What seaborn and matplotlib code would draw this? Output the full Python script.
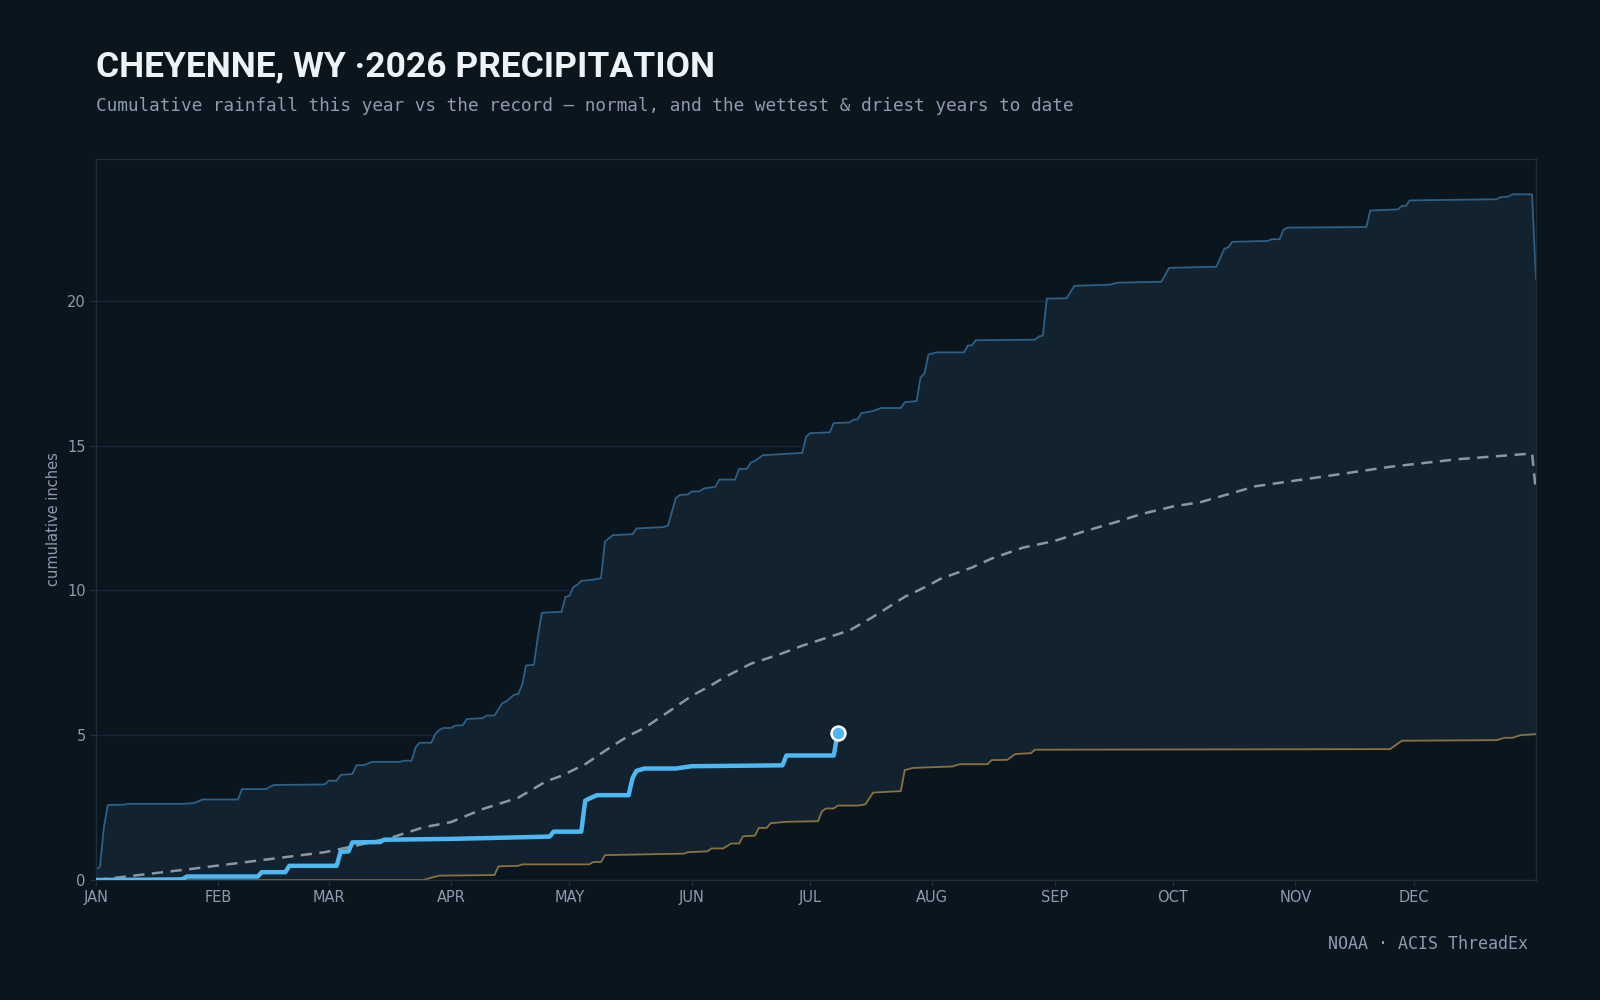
import numpy as np
import pandas as pd
import matplotlib
matplotlib.use("Agg")
import matplotlib.pyplot as plt
import seaborn as sns

# 데이터 (day of year -> cumulative inches, breakpoints)
wet_day = [0, 1, 2, 3, 7, 8, 22, 25, 27, 36, 37, 43, 45, 58, 59, 61, 62, 65, 66, 68, 70, 77, 78, 80,
           81, 82, 85, 86, 87, 88, 90, 91, 93, 94, 98, 99, 101, 103, 104, 106, 107, 108, 109, 111,
           112, 113, 118, 119, 120, 121, 122, 123, 126, 128, 129, 131, 136, 137, 144, 145, 147, 148,
           150, 151, 153, 154, 157, 158, 162, 163, 165, 166, 167, 169, 175, 179, 180, 181, 186, 187,
           191, 192, 193, 194, 197, 199, 204, 205, 208, 209, 210, 211, 213, 220, 221, 222, 223, 238,
           239, 240, 241, 246, 248, 257, 259, 270, 272, 284, 286, 287, 288, 297, 298, 300, 301, 302,
           322, 323, 330, 331, 332, 333, 355, 356, 358, 359, 364, 365]
wet_in = [0.35, 0.46, 1.82, 2.59, 2.6, 2.63, 2.63, 2.66, 2.78, 2.78, 3.14, 3.14, 3.28, 3.3, 3.43, 3.43,
          3.63, 3.66, 3.96, 3.97, 4.08, 4.08, 4.12, 4.12, 4.58, 4.74, 4.74, 5.04, 5.18, 5.25, 5.25,
          5.33, 5.35, 5.56, 5.59, 5.68, 5.68, 6.11, 6.17, 6.4, 6.42, 6.73, 7.41, 7.43, 8.4, 9.23,
          9.26, 9.78, 9.81, 10.12, 10.19, 10.33, 10.37, 10.42, 11.69, 11.91, 11.94, 12.14, 12.19,
          12.25, 13.2, 13.3, 13.31, 13.42, 13.42, 13.52, 13.58, 13.83, 13.83, 14.2, 14.2, 14.42,
          14.47, 14.67, 14.72, 14.75, 15.31, 15.43, 15.46, 15.78, 15.8, 15.9, 15.9, 16.12, 16.2,
          16.3, 16.3, 16.5, 16.54, 17.35, 17.5, 18.15, 18.22, 18.22, 18.46, 18.46, 18.64, 18.66,
          18.77, 18.8, 20.08, 20.09, 20.52, 20.56, 20.63, 20.66, 21.14, 21.18, 21.8, 21.85, 22.04,
          22.07, 22.13, 22.13, 22.46, 22.53, 22.55, 23.12, 23.16, 23.28, 23.28, 23.47, 23.51, 23.58,
          23.6, 23.68, 23.68, 20.74]

dry_day = [0, 83, 85, 87, 101, 102, 107, 108, 125, 126, 128, 129, 149, 150, 155, 156, 159, 161, 163,
           164, 167, 168, 170, 171, 175, 183, 184, 185, 187, 188, 193, 195, 197, 204, 205, 206, 207,
           217, 219, 226, 227, 231, 233, 237, 238, 328, 331, 355, 357, 359, 361, 365]
dry_in = [0.0, 0.0, 0.08, 0.15, 0.17, 0.47, 0.49, 0.54, 0.54, 0.62, 0.62, 0.86, 0.91, 0.96, 0.99, 1.09,
          1.09, 1.26, 1.26, 1.51, 1.53, 1.8, 1.8, 1.96, 2.01, 2.03, 2.37, 2.47, 2.47, 2.57, 2.57,
          2.61, 3.02, 3.07, 3.8, 3.83, 3.87, 3.92, 4.0, 4.0, 4.14, 4.15, 4.35, 4.38, 4.5, 4.52, 4.81,
          4.83, 4.91, 4.91, 5.0, 5.04]

normal_day = [0, 7, 24, 41, 58, 66, 75, 83, 90, 98, 107, 109, 114, 118, 124, 130, 135, 139, 145, 151,
              156, 159, 166, 173, 179, 186, 191, 197, 205, 211, 214, 222, 227, 235, 243, 250, 259,
              265, 273, 280, 294, 311, 328, 345, 364, 365]
normal_in = [0.0, 0.11, 0.38, 0.67, 0.96, 1.19, 1.47, 1.82, 2.0, 2.45, 2.84, 3.0, 3.4, 3.6, 4.0, 4.55,
             4.98, 5.25, 5.8, 6.36, 6.73, 6.98, 7.47, 7.78, 8.09, 8.4, 8.62, 9.09, 9.78, 10.17, 10.4,
             10.79, 11.1, 11.48, 11.71, 12.02, 12.38, 12.64, 12.9, 13.05, 13.6, 13.93, 14.27, 14.53,
             14.73, 13.4]

this_day = [0, 21, 22, 23, 41, 42, 48, 49, 61, 62, 64, 65, 72, 73, 90, 100, 115, 116, 123, 124, 125,
            127, 135, 136, 137, 139, 147, 151, 174, 175, 187, 188]
this_in = [0.0, 0.02, 0.03, 0.12, 0.12, 0.27, 0.27, 0.49, 0.49, 0.97, 0.99, 1.3, 1.31, 1.39, 1.42,
           1.45, 1.5, 1.67, 1.67, 2.74, 2.81, 2.93, 2.93, 3.52, 3.77, 3.85, 3.85, 3.93, 3.96, 4.3,
           4.3, 5.09]

month_start = [0, 31, 59, 90, 120, 151, 181, 212, 243, 273, 304, 334]
month_lbl = ['JAN', 'FEB', 'MAR', 'APR', 'MAY', 'JUN', 'JUL', 'AUG', 'SEP', 'OCT', 'NOV', 'DEC']

# 스타일
BG = '#0b151e'
FILL = '#12222f'
WET = '#2b6088'
DRY = '#8c7140'
NORM = '#8797a8'
NOW = '#4db8f4'
TXT = '#8b9bb0'
EDGE = '#1b2e3e'

sns.set_theme(style='dark')
plt.rcParams['font.family'] = ['DejaVu Sans']
plt.rcParams['figure.facecolor'] = BG
plt.rcParams['axes.facecolor'] = BG

fig = plt.figure(figsize=(16, 10), dpi=100)
ax = fig.add_axes([0.06, 0.12, 0.90, 0.721])

# 범위 채우기 (driest ~ wettest)
ax.fill(wet_day + dry_day[::-1], wet_in + dry_in[::-1], color=FILL, lw=0, zorder=1)

sns.lineplot(x=wet_day, y=wet_in, ax=ax, color=WET, lw=1.3, estimator=None, zorder=2)
sns.lineplot(x=dry_day, y=dry_in, ax=ax, color=DRY, lw=1.3, estimator=None, zorder=2)
sns.lineplot(x=normal_day, y=normal_in, ax=ax, color=NORM, lw=1.8, estimator=None, zorder=3,
             dashes=False).lines[-1].set_dashes([4.5, 3])
sns.lineplot(x=this_day, y=this_in, ax=ax, color=NOW, lw=3.2, estimator=None, zorder=4)
ax.plot(this_day[-1:], this_in[-1:], 'o', ms=10, mfc=NOW, mec='white', mew=1.8, zorder=5)

ax.set_xlim(0, 365)
ax.set_ylim(0, 24.9)
ax.set_xticks(month_start)
ax.set_xticklabels(month_lbl)
ax.set_yticks([0, 5, 10, 15, 20])
ax.set_xlabel('')
ax.set_ylabel('cumulative inches', color=TXT, fontsize=10.5)
ax.yaxis.set_label_coords(-0.024, 0.5)
ax.tick_params(axis='both', colors=EDGE, labelcolor=TXT, labelsize=10.5, length=4, width=1,
               bottom=True, left=True)
ax.tick_params(axis='x', pad=3)
ax.grid(axis='y', color='#14283a', lw=1)
ax.grid(axis='x', visible=False)
for s in ax.spines.values():
    s.set_visible(True)
    s.set_color(EDGE)
    s.set_linewidth(1)

# 제목
fig.text(0.06, 0.9235, 'CHEYENNE, WY \u00b72026 PRECIPITATION', color='#eef3f8', fontsize=25.5,
         fontweight='bold', family=['Roboto', 'DejaVu Sans'], va='baseline')
fig.text(0.06, 0.889, 'Cumulative rainfall this year vs the record \u2014 normal, and the wettest & driest years to date',
         color=TXT, fontsize=12.8, family=['DejaVu Sans Mono'], va='baseline')
fig.text(0.955, 0.051, 'NOAA \u00b7 ACIS ThreadEx', color=TXT, fontsize=12,
         family=['DejaVu Sans Mono'], ha='right', va='baseline')

fig.savefig('out.png', dpi=100, facecolor=BG)
